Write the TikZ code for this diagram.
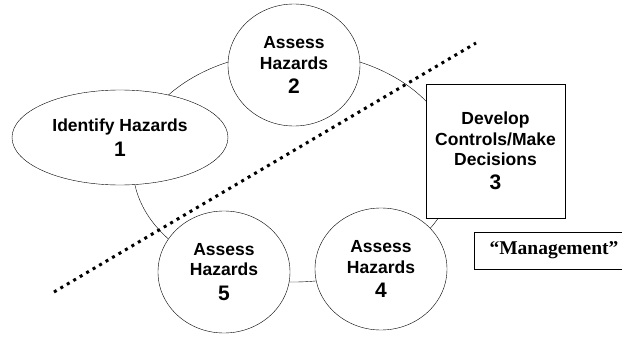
\documentclass[tikz,border=0pt]{standalone}
\usepackage{fontspec}
\setmainfont{Liberation Sans}
\newfontfamily\quotefont{Liberation Serif}
\usepackage{tikz}
\usetikzlibrary{shapes,positioning}

\begin{document}
\begin{tikzpicture}
[x=1pt,y=-1pt, semithick,
 stage/.style={ellipse,draw,thin,fill=white,inner sep=0pt,align=center,
   minimum width=132pt,minimum height=122pt,
   font=\bfseries\fontsize{17.5}{20.5}\selectfont},
 decide/.style={rectangle,draw,fill=white,inner sep=0pt,align=center,
   minimum width=139pt,minimum height=134pt,
   font=\bfseries\fontsize{17.5}{20.5}\selectfont}]
\useasboundingbox (0,0) rectangle (622,337);
\clip (0,0) rectangle (622,337);

\coordinate (mid) at (294,167);
\draw[thin] (mid) ellipse [x radius=161pt, y radius=115pt];

\node (s1) at (120,137.5)[stage,minimum width=216pt,minimum height=95pt] {Identify Hazards\\[4pt]{\fontsize{21}{20.5}\selectfont 1}};
\node (s2) at (294,65)[stage] {Assess\\Hazards\\[4pt]{\fontsize{21}{20.5}\selectfont 2}};
\node (s3) at (495.5,151)[decide] {Develop\\Controls/Make\\Decisions\\[3pt]{\fontsize{21}{20.5}\selectfont 3}};
\node (s4) at (381,269)[stage] {Assess\\Hazards\\[4pt]{\fontsize{21}{20.5}\selectfont 4}};
\node (s5) at (224,272)[stage] {Assess\\Hazards\\[4pt]{\fontsize{21}{20.5}\selectfont 5}};

\node (mgmt) at (554,250.5)[draw,minimum width=160pt,minimum height=37pt,
  font=\quotefont\bfseries\fontsize{19.5}{19.5}\selectfont] {“Management”};

\coordinate (d1) at (54,292);
\coordinate (d2) at (476,43);
\draw[line width=3pt,dash pattern=on 3pt off 4.5pt] (d1) -- (d2);

\end{tikzpicture}
\end{document}
